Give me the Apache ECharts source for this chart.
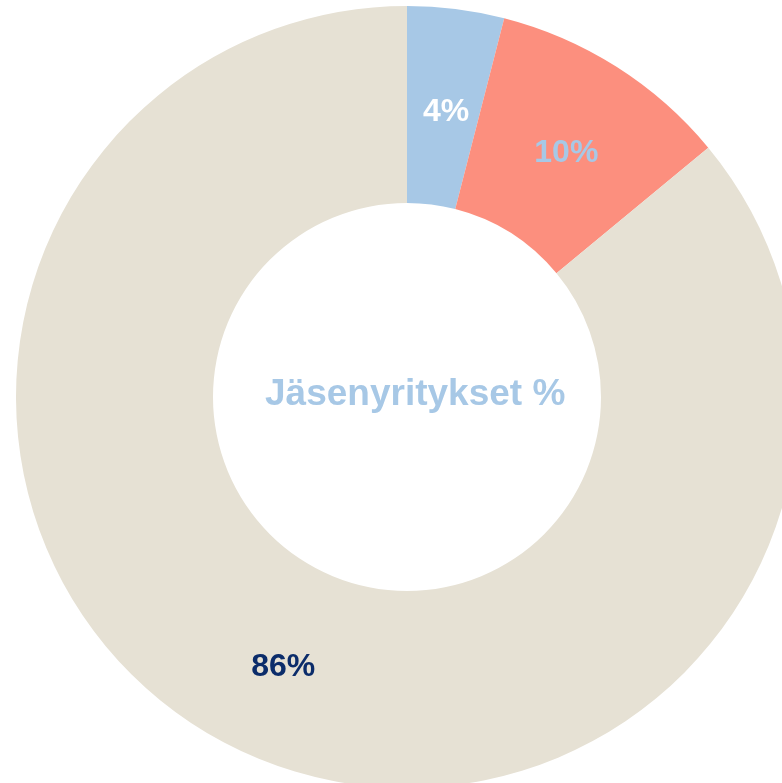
<!DOCTYPE html>
<html>
<head>
<meta charset="utf-8">
<script src="https://cdn.jsdelivr.net/npm/echarts@6/dist/echarts.min.js"></script>
<style>
html,body{margin:0;padding:0;background:#fff;}
#chart{width:782px;height:783px;}
</style>
</head>
<body>
<div id="chart"></div>
<script>
const categories = ["A", "B", "C"];
const values = [4, 10, 86];
const labels = ["4%", "10%", "86%"];
const centerTitle = "Jäsenyritykset %";

const colors = ["#A7C8E6", "#FC8F7E", "#E6E1D4"];
const labelColors = ["#FFFFFF", "#A7C8E6", "#0B2C6A"];
const labelOffsets = [[2, 8], [1, 6], [2, 3]];

const chart = echarts.init(document.getElementById('chart'), null, {renderer: 'canvas'});
chart.setOption({
  animation: false,
  backgroundColor: '#ffffff',
  graphic: [{
    type: 'text',
    left: 265,
    top: 376,
    style: {
      text: centerTitle,
      fill: '#A7C8E6',
      font: 'bold 37px "Liberation Sans", Arial, sans-serif'
    }
  }],
  series: [{
    type: 'pie',
    center: [407, 397],
    radius: [194, 391],
    startAngle: 90,
    clockwise: true,
    avoidLabelOverlap: false,
    labelLine: {show: false},
    itemStyle: {borderWidth: 0},
    emphasis: {disabled: true},
    data: categories.map((c, i) => ({
      name: c,
      value: values[i],
      itemStyle: {color: colors[i]},
      label: {
        show: true,
        position: 'inside',
        formatter: labels[i],
        color: labelColors[i],
        offset: labelOffsets[i],
        fontFamily: '"Liberation Sans", Arial, sans-serif',
        fontWeight: 'bold',
        fontSize: 32
      }
    }))
  }]
});
</script>
</body>
</html>
